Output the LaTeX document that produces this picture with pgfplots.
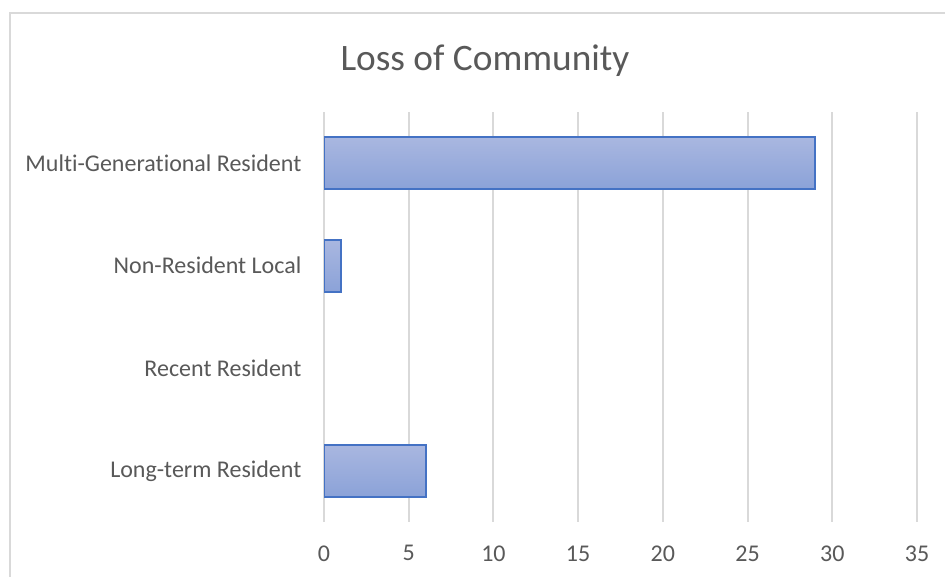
\documentclass[border=0pt]{standalone}
\usepackage{pgfplots}
\pgfplotsset{compat=1.18}
\usepackage{fontspec}
\setmainfont{Carlito}[Ligatures=NoCommon]
\definecolor{txt}{HTML}{595959}
\definecolor{gridc}{HTML}{D9D9D9}
\definecolor{barline}{HTML}{4472C4}
\definecolor{bartop}{HTML}{A9B7E0}
\definecolor{barbot}{HTML}{8BA2D8}
\begin{document}
\begin{tikzpicture}
\useasboundingbox (0,0) rectangle (708.75pt,432.75pt);
\fill[white] (0,0) rectangle (708.75pt,432.75pt);
\draw[gridc, line width=1.5pt] (7.5pt,-10pt) -- (7.5pt,423pt) -- (730pt,423pt);
\node[txt, font=\fontsize{28}{32}\selectfont] at (363.75pt,387pt) {Loss of Community};
\begin{axis}[
  at={(243pt,41.25pt)}, anchor=south west,
  scale only axis, width=444.75pt, height=307.5pt,
  xmin=0, xmax=35, ymin=-0.5, ymax=3.5,
  xtick={0,5,...,35}, ytick={0,1,2,3},
  yticklabels={Long-term Resident, Recent Resident, Non-Resident Local, Multi-Generational Resident},
  axis line style={draw=none},
  xmajorgrids, ymajorgrids=false, major grid style={draw=gridc, line width=1.5pt},
  tick style={draw=none},
  ticklabel style={txt, font=\fontsize{18}{21}\selectfont, inner sep=0pt},
  /pgf/number format/assume math mode=true,
  xticklabel shift=17.5pt,
  yticklabel shift=12.5pt,
  xbar, bar width=39pt, bar shift=0pt,
  restrict x to domain=0.001:100,
]
\addplot[draw=barline, line width=1.5pt, top color=bartop, bottom color=barbot] coordinates {(6,0)};
\addplot[draw=barline, line width=1.5pt, top color=bartop, bottom color=barbot] coordinates {(0,1)};
\addplot[draw=barline, line width=1.5pt, top color=bartop, bottom color=barbot] coordinates {(1,2)};
\addplot[draw=barline, line width=1.5pt, top color=bartop, bottom color=barbot] coordinates {(29,3)};
\end{axis}
\end{tikzpicture}
\end{document}
